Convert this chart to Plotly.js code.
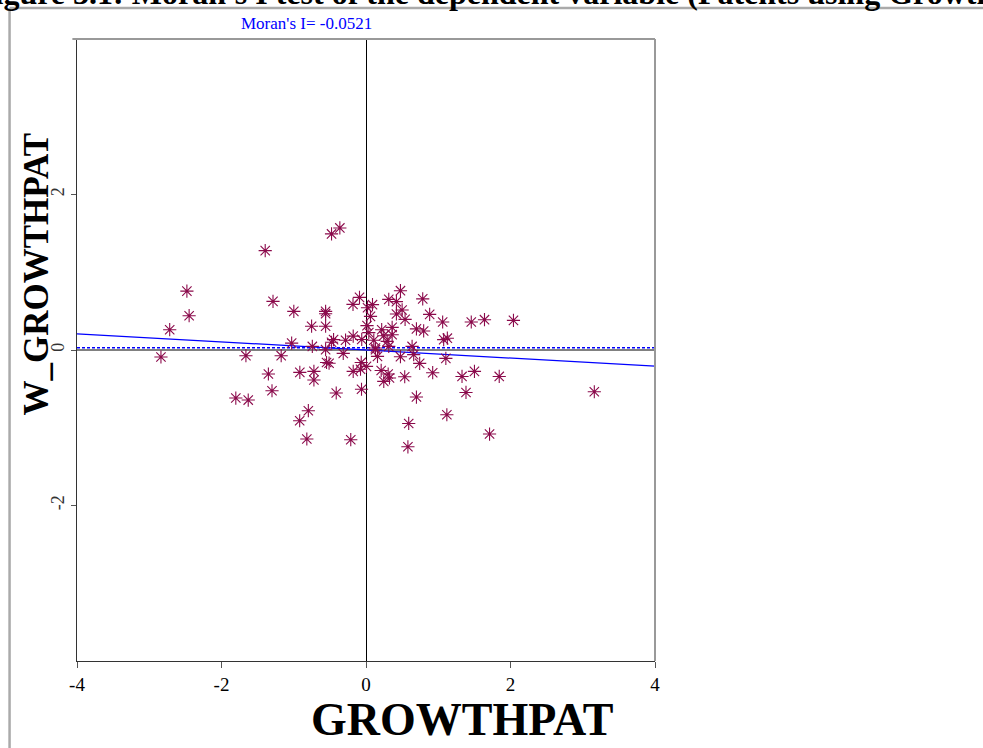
<!DOCTYPE html>
<html>
<head>
<meta charset="utf-8">
<script src="https://cdn.plot.ly/plotly-3.0.1.min.js"></script>
<style>
  html, body { margin: 0; padding: 0; background: #fff; }
  #chart { width: 983px; height: 748px; }
</style>
</head>
<body>
<div id="chart"></div>
<script>
// Standardised variable (x) and its spatial lag (y)
const growthpat = [
  -0.362, -0.477, -1.395, -2.479, -1.287, -2.448, -0.999, -0.559, -0.559, -2.717,
  -0.753, -0.559, -0.180, -0.090, 0.021, 0.090, 0.062, 0.315, -0.449, -0.477,
  -0.283, -0.177, -0.059, 0.014, 0.039, 0.108, 0.217, 0.246, -1.029, -0.743,
  -0.559, -2.838, -1.662, -1.174, -0.315, -0.546, -0.511, -0.066, -0.177, -0.076,
  0.007, 0.210, 0.307, 0.159, 0.131, 0.246, -1.351, -0.916, -0.721, -0.721,
  -1.301, -0.062, -0.412, -1.802, -1.630, -0.798, -0.918, -0.819, -0.211, 0.477,
  0.421, 0.785, 0.500, 0.421, 0.541, 0.881, 1.061, 1.457, 1.640, 2.041,
  0.362, 0.698, 0.798, 0.362, 0.293, 1.075, 1.126, 0.131, 0.315, 0.638,
  0.660, 0.477, 1.105, 0.743, 0.325, 0.536, 0.923, 1.329, 1.501, 1.844,
  0.698, 1.384, 3.160, 1.119, 0.591, 1.710, 0.580
];
const wGrowthpat = [
  1.570, 1.493, 1.278, 0.757, 0.625, 0.441, 0.497, 0.497, 0.467, 0.261,
  0.306, 0.306, 0.587, 0.677, 0.544, 0.583, 0.432, 0.651, 0.133, 0.100,
  0.126, 0.178, 0.136, 0.313, 0.223, 0.126, 0.261, 0.184, 0.088, 0.046,
  0.004, -0.090, -0.073, -0.073, -0.044, -0.161, -0.170, -0.160, -0.275, -0.247,
  -0.211, -0.263, -0.309, -0.082, 0.004, -0.404, -0.309, -0.288, -0.275, -0.386,
  -0.524, -0.505, -0.553, -0.618, -0.644, -0.781, -0.910, -1.145, -1.154, 0.763,
  0.622, 0.658, 0.515, 0.463, 0.394, 0.458, 0.360, 0.360, 0.390, 0.381,
  0.291, 0.272, 0.245, 0.197, 0.111, 0.133, 0.152, 0.026, 0.046, 0.046,
  -0.060, -0.086, -0.108, -0.172, -0.360, -0.344, -0.292, -0.340, -0.275, -0.340,
  -0.605, -0.546, -0.537, -0.833, -0.945, -1.081, -1.245
];
const moranI = -0.0521;
const lineX = [-4, 4];
const refLevel = 0.03;
const xTicks = [-4, -2, 0, 2, 4];
const yTicks = [-2, 0, 2];
const figTitle = "Figure 3.1: Moran's I test of the dependent variable (Patents using GrowthPat weights)";

const serif = '"Liberation Serif", "Times New Roman", serif';

const traces = [
  {
    x: lineX, y: lineX.map(v => refLevel), mode: 'lines', type: 'scatter',
    line: {color: '#0000ff', width: 1.5, dash: '3px,2px'}, hoverinfo: 'skip'
  },
  {
    x: lineX, y: lineX.map(v => moranI * v), mode: 'lines', type: 'scatter',
    line: {color: '#0000ff', width: 1.3}, hoverinfo: 'skip'
  },
  {
    x: growthpat, y: wGrowthpat, mode: 'markers', type: 'scatter',
    marker: {symbol: 'asterisk-open', size: 11, color: '#8b0a4b',
             line: {color: '#8b0a4b', width: 1.1}}
  }
];

const layout = {
  width: 983, height: 748,
  margin: {l: 76.5, r: 328, t: 39, b: 87, pad: 0},
  paper_bgcolor: '#ffffff', plot_bgcolor: '#ffffff',
  showlegend: false,
  font: {family: serif, color: '#000'},
  xaxis: {
    range: [-4, 4], tickvals: xTicks, ticktext: xTicks.map(String),
    showgrid: false, zeroline: true, zerolinecolor: '#000', zerolinewidth: 1,
    showline: true, linecolor: '#333', linewidth: 1,
    ticks: 'outside', ticklen: 6, tickcolor: '#555', tickwidth: 1,
    tickfont: {family: serif, size: 19, color: '#000'}
  },
  yaxis: {
    range: [-4, 4], tickvals: yTicks, ticktext: yTicks.map(String),
    tickangle: -90,
    showgrid: false, zeroline: true, zerolinecolor: '#808080', zerolinewidth: 2,
    showline: true, linecolor: '#333', linewidth: 1,
    ticks: 'outside', ticklen: 5, tickcolor: '#555', tickwidth: 1,
    tickfont: {family: serif, size: 18, color: '#333'}
  },
  shapes: [
    // top and right frame of the plotting box
    {type: 'line', xref: 'paper', yref: 'paper', x0: -0.008, x1: 1, y0: 1, y1: 1,
     line: {color: '#999', width: 2}},
    {type: 'line', xref: 'paper', yref: 'paper', x0: 1, x1: 1, y0: 0, y1: 1,
     line: {color: '#999', width: 2}},
    // outer gray frame of the figure
    {type: 'line', xref: 'paper', yref: 'paper',
     x0: -67.5 / 578.5, x1: -67.5 / 578.5, y0: 0 - 87 / 622, y1: 1 + 31 / 622,
     line: {color: '#aaa', width: 2.5}},
    {type: 'line', xref: 'paper', yref: 'paper',
     x0: -67.5 / 578.5, x1: 1 + 330 / 578.5, y0: 1 + 31 / 622, y1: 1 + 31 / 622,
     line: {color: '#aaa', width: 2.5}}
  ],
  annotations: [
    {text: "Moran's I= -0.0521", xref: 'paper', yref: 'paper',
     x: (306 - 76.5) / 578.5, y: 1 + (39 - 23) / 622, xanchor: 'center', yanchor: 'middle',
     showarrow: false, font: {family: serif, size: 17, color: '#0000ff'}},
    {text: '<b>GROWTHPAT</b>', xref: 'paper', yref: 'paper',
     x: (462 - 76.5) / 578.5, y: -(719 - 661) / 622, xanchor: 'center', yanchor: 'middle',
     showarrow: false, font: {family: serif, size: 46, color: '#000'}},
    {text: '<b>W_GROWTHPAT</b>', xref: 'paper', yref: 'paper',
     x: (35 - 76.5) / 578.5, y: (661 - 274) / 622, xanchor: 'center', yanchor: 'middle',
     textangle: -90,
     showarrow: false, font: {family: serif, size: 35, color: '#000'}},
    {text: '<b>' + figTitle + '</b>', xref: 'paper', yref: 'paper',
     x: (-28 - 76.5) / 578.5, y: 1 + (39 - 13) / 622, xanchor: 'left', yanchor: 'bottom',
     showarrow: false, font: {family: serif, size: 32, color: '#000'}}
  ]
};

Plotly.newPlot('chart', traces, layout, {displayModeBar: false, staticPlot: true});
</script>
</body>
</html>
